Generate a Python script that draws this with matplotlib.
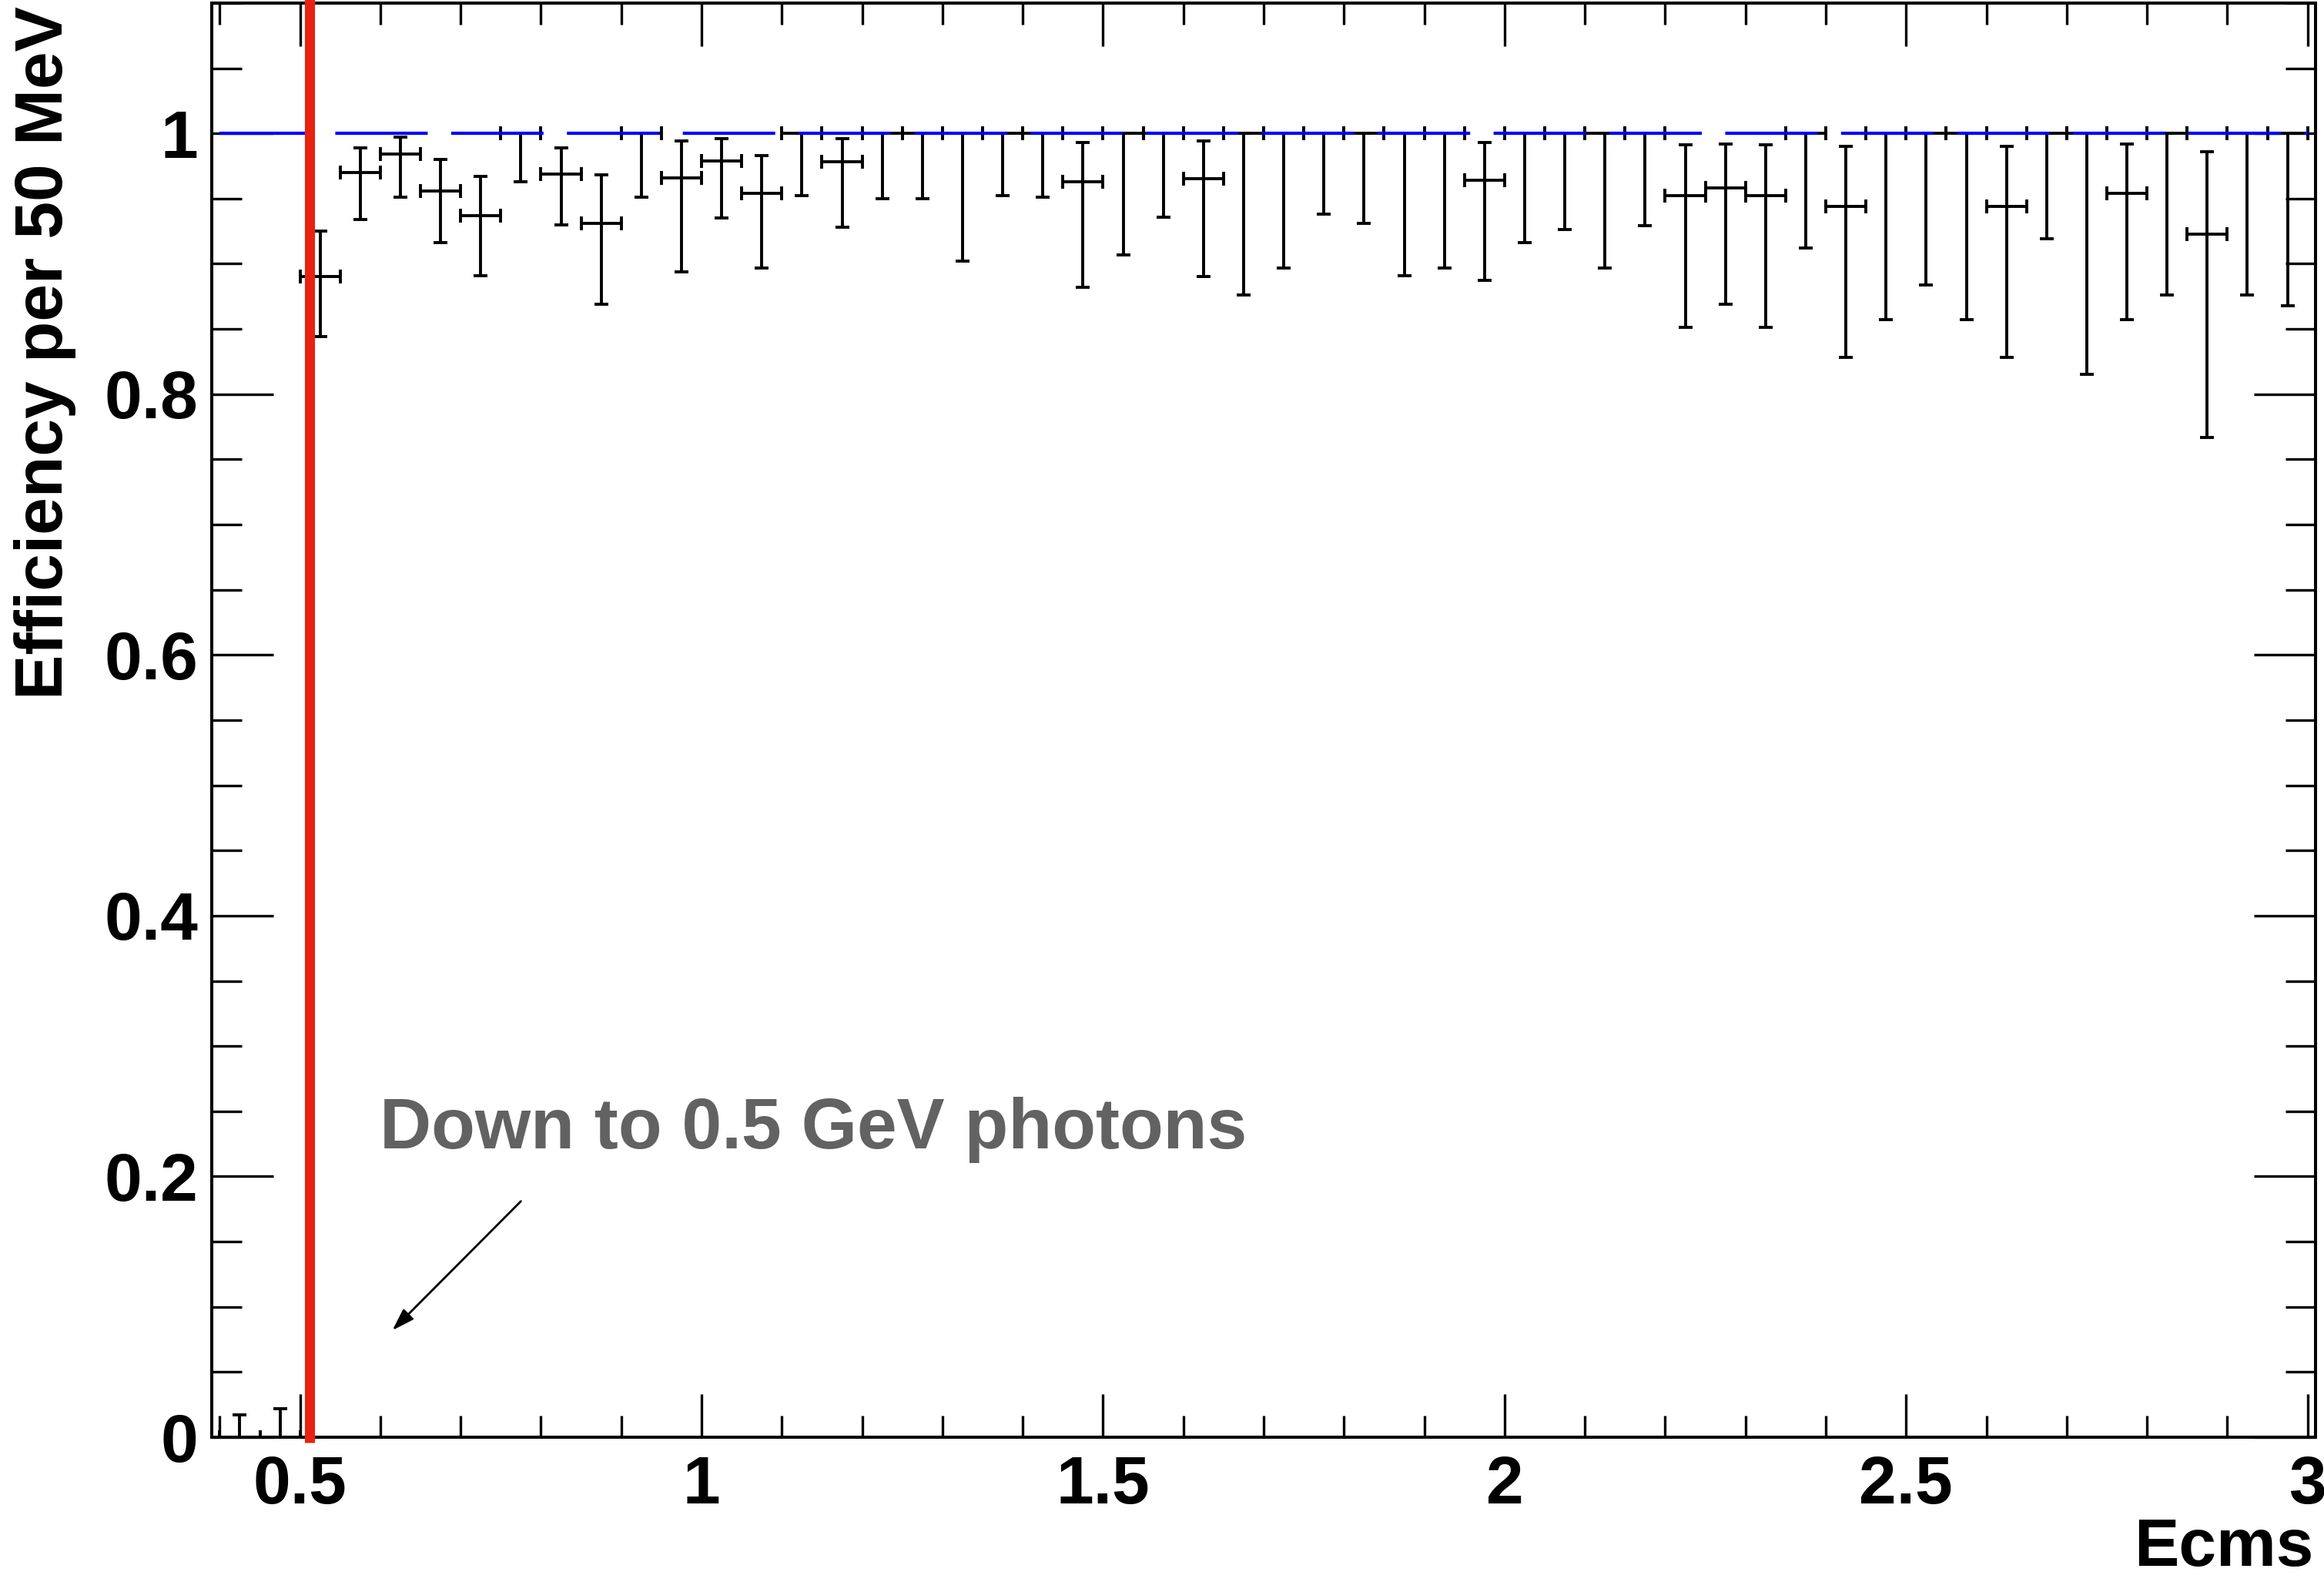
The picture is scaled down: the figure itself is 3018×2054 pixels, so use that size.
import numpy as np
import matplotlib
matplotlib.use("Agg")
import matplotlib.pyplot as plt
from matplotlib.ticker import MultipleLocator, FormatStrFormatter

plt.rcParams['font.family'] = ['Liberation Sans', 'DejaVu Sans']
plt.rcParams['font.weight'] = 'bold'

# 50 MeV bins from 0.4 to 3.0 GeV
bin_lo = 0.4
bin_width = 0.05
n_bins = 52
centers = bin_lo + bin_width * (np.arange(n_bins) + 0.5)

# efficiency and the upper / lower ends of its error bar, read per bin
eff = [0.0, 0.0, 0.890, 0.970, 0.984, 0.956, 0.937, 1.0, 0.969, 0.931,
       1.0, 0.966, 0.979, 0.954, 1.0, 0.978, 1.0, 1.0, 1.0, 1.0,
       1.0, 0.963, 1.0, 1.0, 0.965, 1.0, 1.0, 1.0, 1.0, 1.0,
       1.0, 0.964, 1.0, 1.0, 1.0, 1.0, 0.952, 0.958, 0.952, 1.0,
       0.944, 1.0, 1.0, 1.0, 0.944, 1.0, 1.0, 0.954, 1.0, 0.923,
       1.0, 1.0]
eff_hi = [0.017, 0.022, 0.925, 0.989, 0.997, 0.980, 0.967, 1.0, 0.989, 0.968,
          1.0, 0.994, 0.996, 0.983, 1.0, 0.996, 1.0, 1.0, 1.0, 1.0,
          1.0, 0.993, 1.0, 1.0, 0.994, 1.0, 1.0, 1.0, 1.0, 1.0,
          1.0, 0.993, 1.0, 1.0, 1.0, 1.0, 0.991, 0.992, 0.991, 1.0,
          0.990, 1.0, 1.0, 1.0, 0.990, 1.0, 1.0, 0.992, 1.0, 0.986,
          1.0, 1.0]
eff_lo = [0.0, 0.0, 0.844, 0.934, 0.951, 0.916, 0.891, 0.963, 0.930, 0.869,
          0.951, 0.894, 0.935, 0.897, 0.952, 0.928, 0.950, 0.950, 0.902, 0.952,
          0.951, 0.882, 0.907, 0.936, 0.890, 0.876, 0.897, 0.938, 0.931, 0.891,
          0.897, 0.887, 0.916, 0.926, 0.897, 0.929, 0.851, 0.869, 0.851, 0.912,
          0.828, 0.857, 0.884, 0.857, 0.828, 0.919, 0.815, 0.857, 0.876, 0.767,
          0.876, 0.868]

cut_x = 0.5117
x_range = (0.39, 3.01)
y_range = (0.0, 1.1)

eff = np.array(eff)
yerr = [eff - np.array(eff_lo), np.array(eff_hi) - eff]

fig = plt.figure(figsize=(15.09, 10.27), dpi=200)
ax = fig.add_axes([0.0911, 0.0915, 0.9053, 0.9066])

ax.errorbar(centers, eff, xerr=bin_width / 2, yerr=yerr, fmt='none',
            ecolor='black', elinewidth=1.4, capsize=3.4, capthick=1.4,
            zorder=2)

# reference line at 1
ax.plot([0.4, 3.0], [1, 1], color='#0000ff', lw=1.5, dashes=(28.8, 7.3),
        zorder=3)

# cut line
ax.plot([cut_x, cut_x], [-0.004, 1.11], color='#e8220f', lw=4.7,
        clip_on=False, solid_capstyle='butt', zorder=4)

ax.text(0.599, 0.2215, 'Down to 0.5 GeV photons', color='#626262',
        fontsize=33.5, fontweight='bold', ha='left', va='baseline')
ax.annotate('', xy=(0.615, 0.082), xytext=(0.775, 0.181),
            arrowprops=dict(arrowstyle='-|>,head_length=0.4,head_width=0.13',
                            color='black', lw=1.0, mutation_scale=22,
                            shrinkA=0, shrinkB=0))

ax.set_xlim(*x_range)
ax.set_ylim(*y_range)

ax.xaxis.set_major_locator(MultipleLocator(0.5))
ax.xaxis.set_minor_locator(MultipleLocator(0.1))
ax.yaxis.set_major_locator(MultipleLocator(0.2))
ax.yaxis.set_minor_locator(MultipleLocator(0.05))
ax.xaxis.set_major_formatter(FormatStrFormatter('%g'))
ax.yaxis.set_major_formatter(FormatStrFormatter('%g'))

ax.tick_params(which='both', direction='in', top=True, right=True,
               width=1.2, labelsize=31.5)
ax.tick_params(axis='x', which='major', length=20, pad=8.3)
ax.tick_params(axis='x', which='minor', length=10)
ax.tick_params(axis='y', which='major', length=28.8, pad=6.5)
ax.tick_params(axis='y', which='minor', length=14)
for lab in ax.get_xticklabels() + ax.get_yticklabels():
    lab.set_fontweight('bold')

for sp in ax.spines.values():
    sp.set_linewidth(1.45)

ax.set_xlabel('Ecms', fontsize=31.5, fontweight='bold', loc='right')
ax.xaxis.set_label_coords(0.999, -0.056)
ax.set_ylabel('Efficiency per 50 MeV', fontsize=31.5, fontweight='bold',
              loc='top')
ax.yaxis.set_label_coords(-0.0644, 0.998)

fig.savefig('out.png', dpi=200)
